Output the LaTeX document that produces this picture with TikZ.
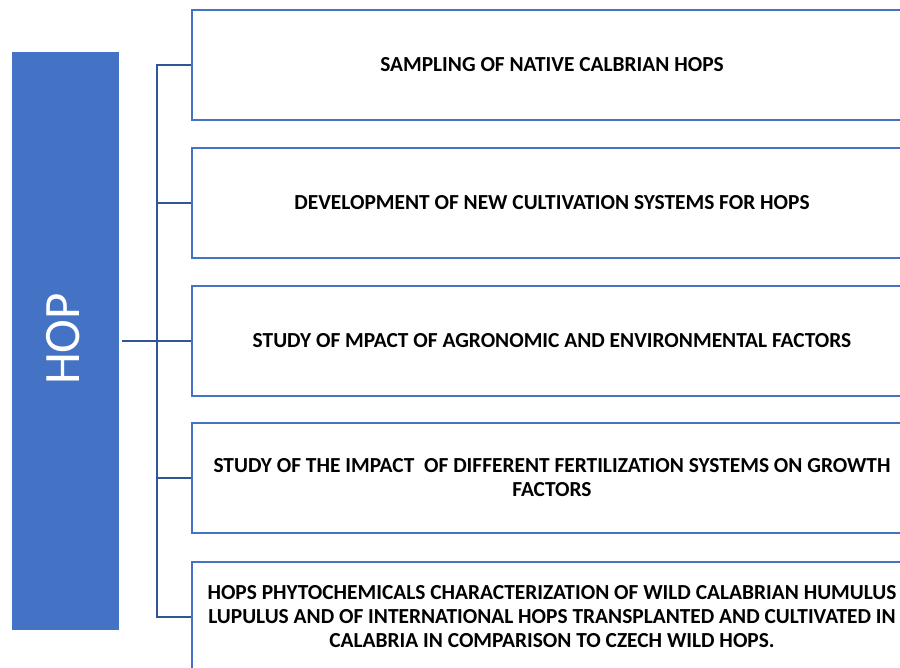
\documentclass[tikz,border=0pt]{standalone}
\usepackage{fontspec}
\setmainfont{Carlito}
\usepackage{tikz}

\definecolor{hopblue}{HTML}{4472C4}
\definecolor{linkblue}{HTML}{2F5597}

\tikzset{
  topic/.style={draw=hopblue,line width=1.5pt,fill=white,minimum width=720pt,minimum height=110pt,
    align=center,font=\fontsize{21.4}{24}\selectfont\bfseries,inner sep=0pt},
  link/.style={draw=linkblue,line width=1.4pt}
}

\begin{document}
\begin{tikzpicture}[x=1pt,y=-1pt]
  \useasboundingbox (0,0) rectangle (900,668);
  \clip (0,0) rectangle (900,668);

  % main block
  \node[fill=hopblue,minimum width=107pt,minimum height=578pt,inner sep=0pt] (hop) at (65.5,341) {};
  \node[rotate=90,text=white,font=\fontsize{51}{60}\selectfont] (hoplabel) at (63,339) {HOP};

  % topics
  \node[topic] (b1) at (552,65) {SAMPLING OF NATIVE CALBRIAN HOPS};
  \node[topic] (b2) at (552,203) {DEVELOPMENT OF NEW CULTIVATION SYSTEMS FOR HOPS};
  \node[topic] (b3) at (552,341) {STUDY OF MPACT OF AGRONOMIC AND ENVIRONMENTAL FACTORS};
  \node[topic] (b4) at (552,478) {STUDY OF THE IMPACT\ \ OF DIFFERENT FERTILIZATION SYSTEMS ON GROWTH\\ FACTORS};
  \node[topic] (b5) at (552,617) {HOPS PHYTOCHEMICALS CHARACTERIZATION OF WILD CALABRIAN HUMULUS\\
    LUPULUS AND OF INTERNATIONAL HOPS TRANSPLANTED AND CULTIVATED IN\\
    CALABRIA IN COMPARISON TO CZECH WILD HOPS.};

  % tree lines
  \coordinate (spine) at (157,341);
  \draw[link] ([xshift=3pt]hop.east) -- (spine);
  \foreach \i in {1,...,5}
    \draw[link] (b\i.west) -| (spine);
\end{tikzpicture}
\end{document}
